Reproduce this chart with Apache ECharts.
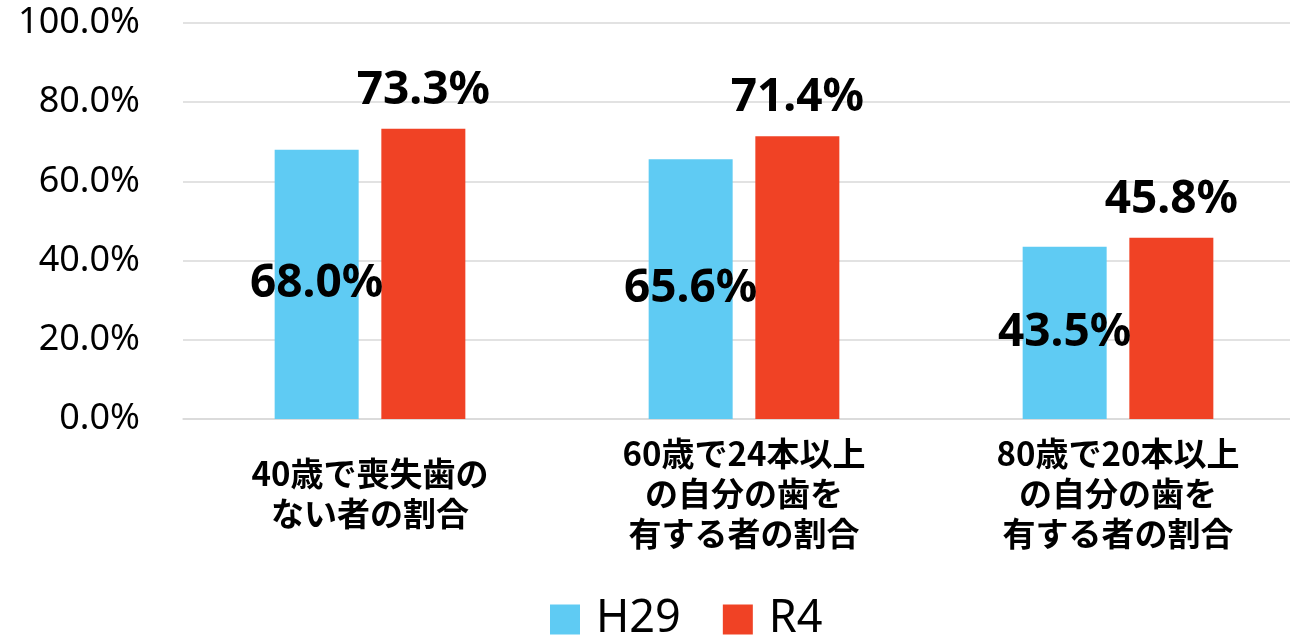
<!DOCTYPE html>
<html>
<head>
<meta charset="utf-8">
<script src="https://cdn.jsdelivr.net/npm/echarts@6/dist/echarts.min.js"></script>
<style>
    html, body { margin: 0; padding: 0; background: #fff; }
    #chart { width: 1290px; height: 635px; }
</style>
</head>
<body>
<div id="chart"></div>
<script>
    // 項目名（改行は元の図のまま）
    var categories = [
        '40歳で喪失歯の\nない者の割合',
        '60歳で24本以上\nの自分の歯を\n有する者の割合',
        '80歳で20本以上\nの自分の歯を\n有する者の割合'
    ];
    var seriesNames = ['H29', 'R4'];
    var h29Values = [68.0, 65.6, 43.5];
    var r4Values = [73.3, 71.4, 45.8];
    var yTicks = [0, 20, 40, 60, 80, 100];

    var latin = '"Noto Sans", "Noto Sans CJK JP", sans-serif';
    var cjk = '"Noto Sans CJK JP", "Noto Sans", sans-serif';

    var chart = echarts.init(document.getElementById('chart'));
    chart.setOption({
        animation: false,
        color: ['#5FCBF3', '#F04225'],
        grid: {
            left: 183,
            width: 1122,   // 右端は画面外まで伸びている
            top: 23,
            bottom: 216,
            outerBoundsMode: 'none'
        },
        legend: {
            data: seriesNames,
            left: 545,
            top: 592,
            itemWidth: 30,
            itemHeight: 30,
            itemGap: 42,
            icon: 'rect',
            textStyle: {
                fontFamily: latin,
                fontSize: 45,
                color: '#000',
                padding: [0, 0, 0, 11]
            }
        },
        xAxis: {
            type: 'category',
            data: categories,
            axisTick: { show: false },
            axisLine: { lineStyle: { color: '#D9D9D9', width: 1.5 } },
            axisLabel: {
                interval: 0,
                margin: 74,
                verticalAlign: 'middle',
                lineHeight: 40,
                fontFamily: cjk,
                fontWeight: 'bold',
                fontSize: 33,
                color: '#000'
            }
        },
        yAxis: {
            type: 'value',
            min: yTicks[0],
            max: yTicks[yTicks.length - 1],
            interval: 20,
            axisLine: { show: false },
            axisTick: { show: false },
            splitLine: { lineStyle: { color: '#D9D9D9', width: 1.5 } },
            axisLabel: {
                margin: 43,
                fontFamily: latin,
                fontSize: 36,
                color: '#000',
                formatter: function (v) { return v.toFixed(1) + '%'; }
            }
        },
        series: [
            {
                name: seriesNames[0],
                type: 'bar',
                data: h29Values,
                barWidth: 84,
                barGap: '27%',
                label: {
                    show: true,
                    position: 'inside',
                    fontFamily: latin,
                    fontWeight: 'bold',
                    fontSize: 46,
                    color: '#000',
                    formatter: function (p) { return p.value.toFixed(1) + '%'; }
                }
            },
            {
                name: seriesNames[1],
                type: 'bar',
                data: r4Values,
                barWidth: 84,
                barGap: '27%',
                label: {
                    show: true,
                    position: 'top',
                    distance: 15,
                    fontFamily: latin,
                    fontWeight: 'bold',
                    fontSize: 46,
                    color: '#000',
                    formatter: function (p) { return p.value.toFixed(1) + '%'; }
                }
            }
        ]
    });
</script>
</body>
</html>
